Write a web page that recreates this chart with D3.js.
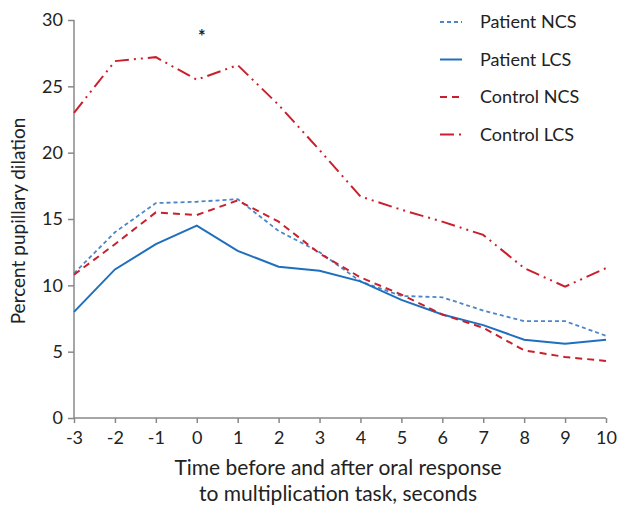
<!DOCTYPE html>
<html>
<head>
<meta charset="utf-8">
<script src="https://cdn.jsdelivr.net/npm/d3@7"></script>
<style>
  body { margin: 0; background: #fff; }
  text { font-family: Lato, "Open Sans", sans-serif; fill: #222; }
</style>
</head>
<body>
<div id="chart"></div>
<script>
// time points, seconds relative to oral response
var times = [-3, -2, -1, 0, 1, 2, 3, 4, 5, 6, 7, 8, 9, 10];
var patientNCS = [10.9, 14.0, 16.2, 16.3, 16.5, 14.1, 12.5, 10.3, 9.2, 9.1, 8.1, 7.3, 7.3, 6.2];
var patientLCS = [8.0, 11.2, 13.1, 14.5, 12.6, 11.4, 11.1, 10.3, 8.9, 7.8, 7.0, 5.9, 5.6, 5.9];
var controlNCS = [10.8, 13.1, 15.5, 15.3, 16.4, 14.8, 12.4, 10.6, 9.3, 7.8, 6.8, 5.1, 4.6, 4.3];
var controlLCS = [23.0, 26.9, 27.2, 25.5, 26.6, 23.6, 20.2, 16.7, 15.7, 14.8, 13.8, 11.3, 9.9, 11.3];
var yTicks = [0, 5, 10, 15, 20, 25, 30];

var series = [
  {name: "Patient NCS", values: patientNCS, color: "#4a86c8", dash: "4,3", width: 1.8},
  {name: "Patient LCS", values: patientLCS, color: "#1f6fbf", dash: null, width: 2},
  {name: "Control NCS", values: controlNCS, color: "#c8202c", dash: "7,5", width: 2},
  {name: "Control LCS", values: controlLCS, color: "#c8202c", dash: "14,5,2,5,2,5", width: 2}
];

var width = 617, height = 506;
var margin = {top: 20, right: 11, bottom: 88, left: 74};

var svg = d3.select("#chart").append("svg")
  .attr("width", width)
  .attr("height", height);

var x = d3.scaleLinear().domain([-3, 10]).range([margin.left, width - margin.right]);
var y = d3.scaleLinear().domain([0, 30]).range([height - margin.bottom, margin.top]);

// y axis
var yAxis = svg.append("g")
  .attr("transform", "translate(" + margin.left + ",0)")
  .call(d3.axisLeft(y).tickValues(yTicks).tickSize(6).tickPadding(5));
// x axis, plain hyphen for negatives like the original
var xAxis = svg.append("g")
  .attr("transform", "translate(0," + y(0) + ")")
  .call(d3.axisBottom(x).tickValues(times).tickFormat(function(d) { return String(d); }).tickSize(5).tickPadding(8));

[xAxis, yAxis].forEach(function(g) {
  g.select(".domain").attr("stroke", "#888").attr("stroke-width", 1.5);
  g.selectAll(".tick line").attr("stroke", "#888").attr("stroke-width", 1.5);
  g.selectAll(".tick text").style("font-size", "18px").attr("fill", "#222");
});
yAxis.select(".domain").attr("d", "M0," + y(30) + "V" + y(0));
xAxis.select(".domain").attr("d", "M" + x(-3) + ",0H" + x(10));

var line = d3.line()
  .x(function(d, i) { return x(times[i]); })
  .y(function(d) { return y(d); });

svg.append("g")
  .selectAll("path")
  .data(series)
  .enter()
  .append("path")
  .attr("d", function(s) { return line(s.values); })
  .attr("fill", "none")
  .attr("stroke", function(s) { return s.color; })
  .attr("stroke-width", function(s) { return s.width; })
  .attr("stroke-dasharray", function(s) { return s.dash; });

// significance marker
svg.append("text")
  .attr("x", x(0) + 5)
  .attr("y", y(28.3))
  .attr("text-anchor", "middle")
  .style("font-size", "18px")
  .style("font-weight", "bold")
  .text("*");

// legend
var legend = svg.append("g")
  .selectAll("g")
  .data(series)
  .enter()
  .append("g")
  .attr("transform", function(d, i) { return "translate(440," + (22 + i * 37.5) + ")"; });

legend.append("line")
  .attr("x1", 0).attr("x2", 22)
  .attr("stroke", function(s) { return s.color; })
  .attr("stroke-width", function(s) { return s.width; })
  .attr("stroke-dasharray", function(s) { return s.dash ? (s.name == "Control LCS" ? "14,5,2,5" : s.dash) : null; });

legend.append("text")
  .attr("x", 40)
  .attr("dy", "0.35em")
  .style("font-size", "18px")
  .text(function(s) { return s.name; });

// axis titles
svg.append("text")
  .attr("transform", "translate(25," + ((y(0) + y(30)) / 2 + 2) + ") rotate(-90)")
  .attr("text-anchor", "middle")
  .style("font-size", "19px")
  .text("Percent pupillary dilation");

svg.append("text")
  .attr("x", 338)
  .attr("y", 475)
  .attr("text-anchor", "middle")
  .style("font-size", "21px")
  .text("Time before and after oral response");
svg.append("text")
  .attr("x", 338)
  .attr("y", 501)
  .attr("text-anchor", "middle")
  .style("font-size", "21px")
  .text("to multiplication task, seconds");
</script>
</body>
</html>
